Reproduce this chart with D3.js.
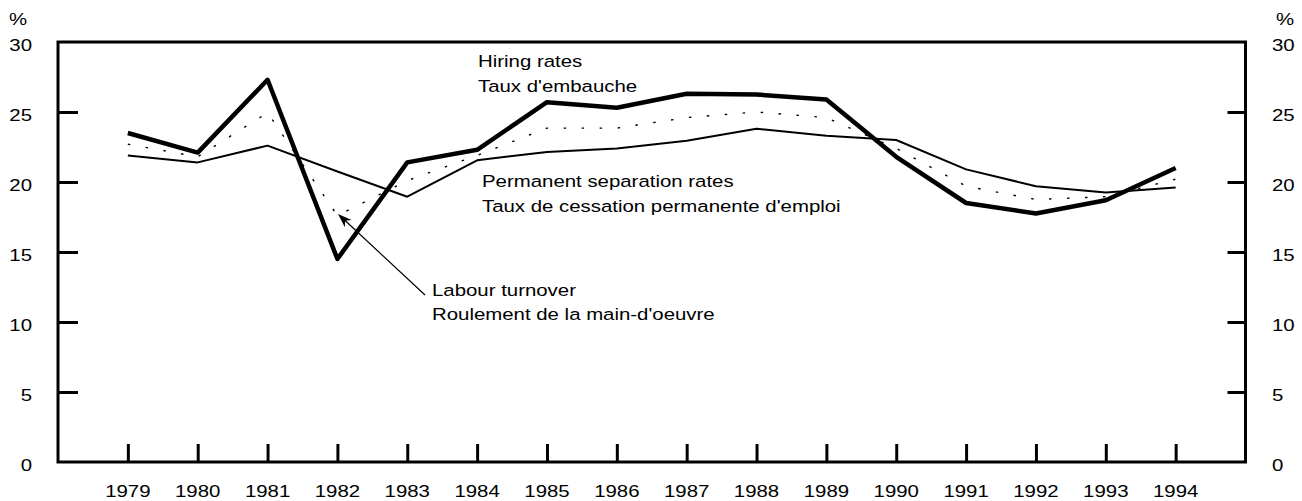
<!DOCTYPE html>
<html>
<head>
<meta charset="utf-8">
<script src="https://cdn.jsdelivr.net/npm/d3@7"></script>
<style>
  html, body { margin: 0; padding: 0; background: #fff; }
  svg { display: block; }
  text { font-family: "Liberation Sans", Arial, Helvetica, sans-serif; font-size: 17px; fill: #000; }
</style>
</head>
<body>
<svg id="chart" width="1302" height="501"></svg>
<script>
const years = [1979,1980,1981,1982,1983,1984,1985,1986,1987,1988,1989,1990,1991,1992,1993,1994];
const hiringRates = [23.5,22.1,27.3,14.5,21.4,22.3,25.7,25.3,26.3,26.25,25.9,21.8,18.5,17.75,18.7,21.0];
const separationRates = [21.9,21.4,22.6,20.75,18.95,21.55,22.15,22.4,22.95,23.8,23.3,23.0,20.9,19.7,19.25,19.6];
const labourTurnover = [22.7,21.8,24.95,17.6,20.1,21.9,23.85,23.85,24.6,25.0,24.6,22.4,19.7,18.75,18.95,20.2];
const yTicks = [0,5,10,15,20,25,30];

(function () {
const svg = d3.select("#chart");
const mLeft = 58, mRight = 1245.5, mTop = 42, mBottom = 462;
const x = d3.scaleLinear().domain([1978, 1995]).range([mLeft, mRight]);
const y = d3.scaleLinear().domain([0, 30]).range([mBottom, mTop]);
const SX = 1.2;

function stretchedText(px, py, str, anchor) {
  svg.append("text")
    .attr("transform", `translate(${px},${py}) scale(${SX},1)`)
    .attr("text-anchor", anchor || "start")
    .text(str);
}

// Frame
svg.append("rect")
  .attr("x", mLeft).attr("y", mTop)
  .attr("width", mRight - mLeft).attr("height", mBottom - mTop)
  .attr("fill", "none").attr("stroke", "#000").attr("stroke-width", 3);

const inner = yTicks.filter(d => d > 0 && d < 30);

// Left axis (ticks inward)
const gl = svg.append("g").attr("transform", `translate(${mLeft},0)`)
  .call(d3.axisRight(y).tickValues(inner).tickSize(20).tickFormat(""));
gl.select(".domain").remove();
gl.selectAll(".tick line").attr("stroke", "#000").attr("stroke-width", 3);

// Right axis (ticks inward)
const gr = svg.append("g").attr("transform", `translate(${mRight},0)`)
  .call(d3.axisLeft(y).tickValues(inner).tickSize(18).tickFormat(""));
gr.select(".domain").remove();
gr.selectAll(".tick line").attr("stroke", "#000").attr("stroke-width", 3);

// Bottom axis (ticks inward)
const gb = svg.append("g").attr("transform", `translate(0,${mBottom})`)
  .call(d3.axisTop(x).tickValues(years).tickSize(18).tickFormat(""));
gb.select(".domain").remove();
gb.selectAll(".tick line").attr("stroke", "#000").attr("stroke-width", 3);

// Y labels
yTicks.forEach(v => {
  stretchedText(32, y(v) + 8.5, String(v), "end");
  stretchedText(1272, y(v) + 8.5, String(v), "start");
});
stretchedText(9, 25, "%", "start");
stretchedText(1276, 25, "%", "start");

// X labels
years.forEach(yr => stretchedText(x(yr), 497, String(yr), "middle"));

// Lines
const line = d3.line().x((d, i) => x(years[i])).y(d => y(d));
svg.append("path").datum(separationRates).attr("d", line)
  .attr("fill", "none").attr("stroke", "#000").attr("stroke-width", 2).attr("stroke-linejoin", "round");
svg.append("path").datum(labourTurnover).attr("d", line)
  .attr("fill", "none").attr("stroke", "#000").attr("stroke-width", 1.4).attr("stroke-dasharray", "2.5,15.5");
svg.append("path").datum(hiringRates).attr("d", line)
  .attr("fill", "none").attr("stroke", "#000").attr("stroke-width", 4.5).attr("stroke-linejoin", "round");

// Annotations
stretchedText(478, 67, "Hiring rates");
stretchedText(478, 92, "Taux d'embauche");
stretchedText(482, 187, "Permanent separation rates");
stretchedText(482, 212, "Taux de cessation permanente d'emploi");
stretchedText(432, 296, "Labour turnover");
stretchedText(432, 320, "Roulement de la main-d'oeuvre");

// Arrow
const ax0 = 425, ay0 = 295, ax1 = 338, ay1 = 214;
svg.append("line").attr("x1", ax0).attr("y1", ay0).attr("x2", ax1 + 6).attr("y2", ay1 + 5.5)
  .attr("stroke", "#000").attr("stroke-width", 1.2);
const ang = Math.atan2(ay1 - ay0, ax1 - ax0);
const L = 14, W = 5;
const bx = ax1 - L * Math.cos(ang), by = ay1 - L * Math.sin(ang);
const px = -Math.sin(ang) * W, py = Math.cos(ang) * W;
const mx = ax1 - L * 0.7 * Math.cos(ang), my = ay1 - L * 0.7 * Math.sin(ang);
svg.append("path")
  .attr("d", `M${ax1},${ay1} L${bx + px},${by + py} L${mx},${my} L${bx - px},${by - py} Z`)
  .attr("fill", "#000");
})();
</script>
</body>
</html>
